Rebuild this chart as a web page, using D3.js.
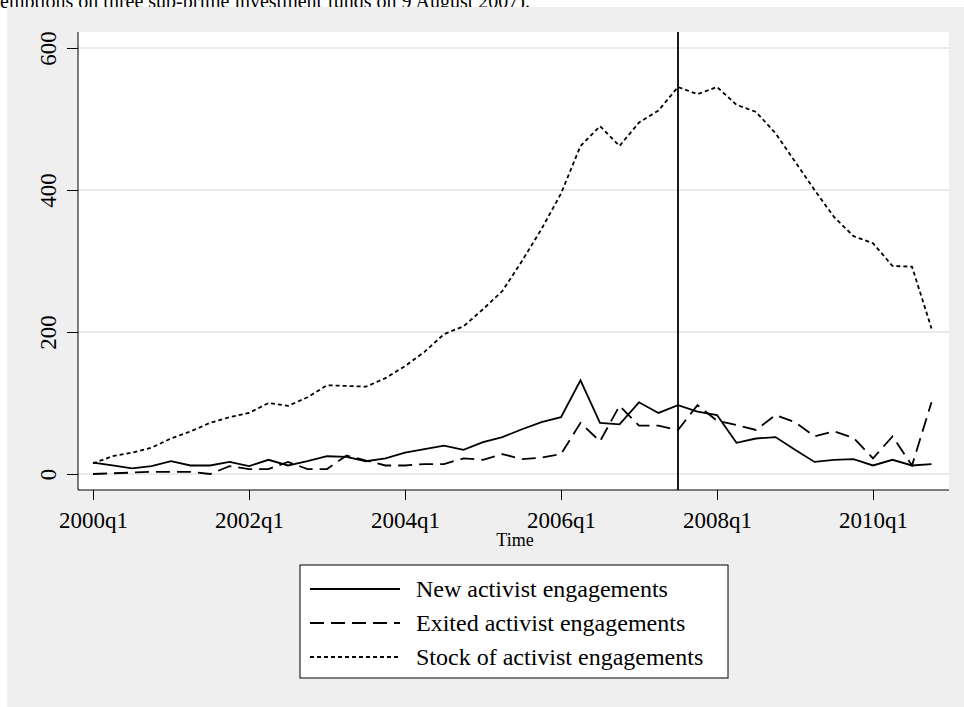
<!DOCTYPE html>
<html><head><meta charset="utf-8">
<script src="https://cdn.jsdelivr.net/npm/d3@7"></script>
<style>body{margin:0;background:#fff}svg{font-family:"Liberation Serif","Times New Roman",serif}</style>
</head><body><svg></svg>
<script>
// quarterly series, 2000q1 .. 2010q4
const newEng = [16,12,8,11,18,12,12,17,11,20, 12,18,25,24,18,22,30,35,40,34,
  45,52,63,73,80,132,72,70,101,86, 97,88,83,44,50,52,34,17,20,21, 12,20,12,14]
const exitEng = [0,1,2,3,3,3,0,11,7,7, 17,7,7,26,19,12,12,14,14,22,
  20,28,21,23,28,72,46,96,68,68, 62,97,75,69,62,83,73,53,60,51, 22,53,12,101]
const stockEng = [15,25,30,37,50,60,72,80,86,100, 96,108,125,124,123,135,152,172,197,208,
  232,258,300,345,395,462,490,462,495,512, 545,535,545,520,510,480,440,400,362,335, 325,293,292,205]
const yTicks = [0,200,400,600]
const xTicks = [0,8,16,24,32,40]   // quarter index
const eventQ = 30                  // 2007q3
const qLabel = i => `${2000 + Math.floor(i/4)}q${i%4+1}`

const width = 964, height = 707
const svg = d3.select("svg").attr("width", width).attr("height", height)

svg.append("text").attr("x", 0).attr("y", 8).attr("font-size", 20)
  .text("emptions on three sub-prime investment funds on 9 August 2007).")
svg.append("rect").attr("x", 7).attr("y", 7).attr("width", 957).attr("height", 700).attr("fill", "#efefef")
svg.append("rect").attr("x", 78).attr("y", 32).attr("width", 871).attr("height", 458).attr("fill", "#fff")

const x = d3.scaleLinear().domain([0, 43]).range([93, 931.5])
const y = d3.scaleLinear().domain([0, 600]).range([474, 48])

// grid
svg.append("g").selectAll("line").data(yTicks).join("line")
  .attr("x1", 78).attr("x2", 949).attr("y1", d => y(d)).attr("y2", d => y(d))
  .attr("stroke", "#eaeaea").attr("stroke-width", 2)

const yAxis = svg.append("g").attr("transform", "translate(78,0)")
  .call(d3.axisLeft(y).tickValues(yTicks).tickSize(11).tickFormat(d3.format("d")))
yAxis.select(".domain").remove()
yAxis.append("line").attr("y1", 490).attr("y2", 32).attr("stroke", "#000")
yAxis.selectAll("text").attr("font-size", 23).attr("fill", "#000").attr("font-family", "Liberation Serif")
  .attr("text-anchor", "middle").attr("x", 0).attr("y", 0).attr("dy", "0.35em")
  .attr("transform", "translate(-30,0) rotate(-90)")

const xAxis = svg.append("g").attr("transform", "translate(0,490)")
  .call(d3.axisBottom(x).tickValues(xTicks).tickSize(10).tickFormat(qLabel))
xAxis.select(".domain").remove()
xAxis.append("line").attr("x1", 78).attr("x2", 949).attr("stroke", "#000")
xAxis.selectAll("text").attr("font-size", 23).attr("fill", "#000").attr("font-family", "Liberation Serif")
  .attr("y", 38).attr("dy", null)

svg.append("text").attr("x", 515).attr("y", 546).attr("text-anchor", "middle").attr("font-size", 18).text("Time")

const line = d3.line().x((d, i) => x(i)).y(d => y(d))
const series = [
  {name: "New activist engagements", data: newEng, dash: null},
  {name: "Exited activist engagements", data: exitEng, dash: "14,7"},
  {name: "Stock of activist engagements", data: stockEng, dash: "4,3"}
]
svg.append("g").selectAll("path").data(series).join("path")
  .attr("d", d => line(d.data)).attr("fill", "none").attr("stroke", "#000")
  .attr("stroke-width", 1.8).attr("stroke-dasharray", d => d.dash)

svg.append("line").attr("x1", x(eventQ)).attr("x2", x(eventQ)).attr("y1", 32).attr("y2", 490)
  .attr("stroke", "#000").attr("stroke-width", 1.8)

// legend
const lg = svg.append("g")
lg.append("rect").attr("x", 300).attr("y", 565).attr("width", 428).attr("height", 113)
  .attr("fill", "#fff").attr("stroke", "#000")
const item = lg.selectAll("g").data(series).join("g")
  .attr("transform", (d, i) => `translate(0,${589 + i * 34})`)
item.append("line").attr("x1", 310).attr("x2", 400).attr("stroke", "#000").attr("stroke-width", 1.8)
  .attr("stroke-dasharray", d => d.dash)
item.append("text").attr("x", 416).attr("y", 8).attr("font-size", 24).text(d => d.name)
</script></body></html>
